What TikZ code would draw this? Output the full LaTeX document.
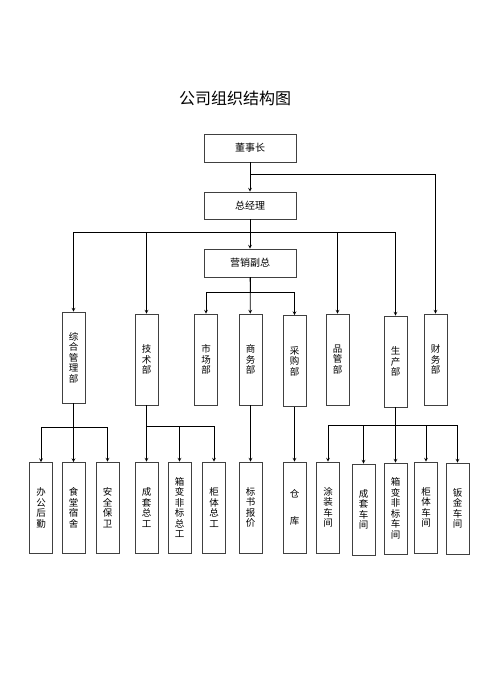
\documentclass[tikz,border=0pt]{standalone}
\usepackage{fontspec}
\setmainfont{Noto Sans CJK SC}
\usetikzlibrary{arrows, shapes}
\tikzstyle{head} = [rectangle, minimum width=92pt, minimum height=28pt, text centered, draw=black!75, font=\fontsize{10}{12}\selectfont]
\tikzstyle{dept} = [rectangle, minimum width=23pt, minimum height=91pt, inner sep=1pt, align=center, draw=black!75, font=\fontsize{9.5}{10.5}\selectfont]
\tikzstyle{arrow} = [->,>=stealth]
\begin{document}
\begin{tikzpicture}[x=1pt, y=-1pt, line width=0.7pt]
\useasboundingbox (0,0) rectangle (479,677);

\node at (235, 98) (title) [font=\fontsize{16}{18}\selectfont] {公司组织结构图};

\node at (250, 148) (dsz) [head] {董事长};
\node at (250, 205.5) (zjl) [head, minimum height=27pt] {总经理};
\node at (250, 263) (yxfz) [head] {营销副总};

\node at (73.5, 357.5) (zhgl) [dept] {综\\合\\管\\理\\部};
\node at (146.5, 359.5) (jsb) [dept] {技\\术\\部};
\node at (206, 359.5) (scb) [dept] {市\\场\\部};
\node at (250.5, 359.5) (swb) [dept] {商\\务\\部};
\node at (294.5, 361) (cgb) [dept] {采\\购\\部};
\node at (337.5, 359.5) (pgb) [dept] {品\\管\\部};
\node at (395.5, 361.5) (sczb) [dept] {生\\产\\部};
\node at (435.5, 359.5) (cwb) [dept] {财\\务\\部};

\node at (41, 508) (bghq) [dept] {办\\公\\后\\勤};
\node at (73.5, 508) (stss) [dept] {食\\堂\\宿\\舍};
\node at (107.5, 507.5) (aqbw) [dept] {安\\全\\保\\卫};
\node at (146.5, 507.5) (ctzg) [dept] {成\\套\\总\\工};
\node at (179.5, 507.5) (xbzg) [dept] {箱\\变\\非\\标\\总\\工};
\node at (214, 507.5) (gtzg) [dept] {柜\\体\\总\\工};
\node at (250.5, 507.5) (bsbj) [dept] {标\\书\\报\\价};
\node at (294.5, 507.5) (ck) [dept] {仓\\[16pt]库};
\node at (328, 507.5) (tzcj) [dept] {涂\\装\\车\\间};
\node at (363.5, 509.5) (ctcj) [dept] {成\\套\\车\\间};
\node at (395.5, 508.5) (xbcj) [dept] {箱\\变\\非\\标\\车\\间};
\node at (426, 507.5) (gtcj) [dept] {柜\\体\\车\\间};
\node at (457.5, 508.5) (bjcj) [dept] {钣\\金\\车\\间};

\draw [arrow] (dsz) -- (zjl);
\draw [arrow] (dsz.south) -- ++(0,12) -| (cwb.north);
\draw [arrow] (zjl) -- (yxfz);
\draw [arrow] (zjl.south) -- ++(0,13) -| (zhgl.north);
\draw [arrow] (zjl.south) -- ++(0,13) -| (jsb.north);
\draw [arrow] (zjl.south) -- ++(0,13) -| (pgb.north);
\draw [arrow] (zjl.south) -- ++(0,13) -| (sczb.north);

\draw [arrow] (yxfz) -- (swb);
\draw [arrow] (yxfz.south) -- ++(0,15) -| (scb.north);
\draw [arrow] (yxfz.south) -- ++(0,15) -| (cgb.north);

\draw [arrow] (zhgl.south) -- ++(0,24) -| (bghq.north);
\draw [arrow] (zhgl) -- (stss);
\draw [arrow] (zhgl.south) -- ++(0,24) -| (aqbw.north);

\draw [arrow] (jsb) -- (ctzg);
\draw [arrow] (jsb.south) -- ++(0,21) -| (xbzg.north);
\draw [arrow] (jsb.south) -- ++(0,21) -| (gtzg.north);

\draw [arrow] (swb) -- (bsbj);
\draw [arrow] (cgb) -- (ck);

\draw [arrow] (sczb.south) -- ++(0,18) -| (tzcj.north);
\draw [arrow] (sczb.south) -- ++(0,18) -| (ctcj.north);
\draw [arrow] (sczb) -- (xbcj);
\draw [arrow] (sczb.south) -- ++(0,18) -| (gtcj.north);
\draw [arrow] (sczb.south) -- ++(0,18) -| (bjcj.north);

\end{tikzpicture}
\end{document}
